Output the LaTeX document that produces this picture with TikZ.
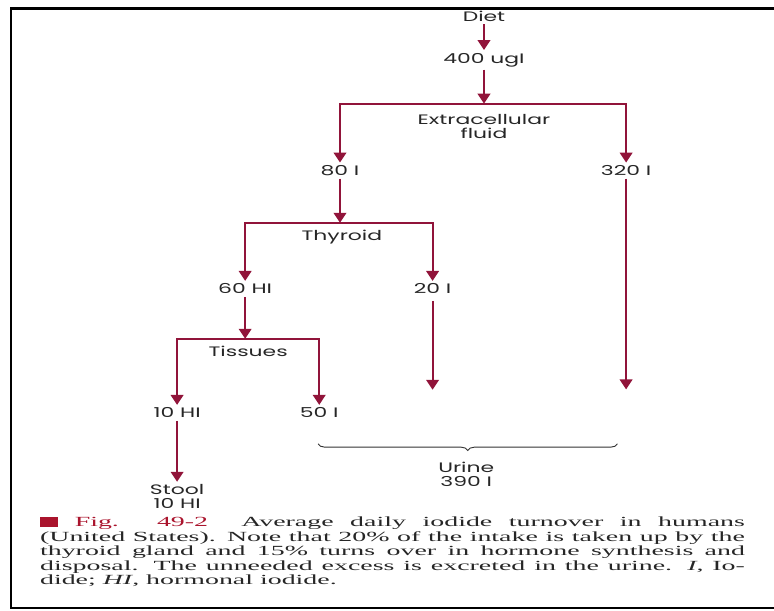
\documentclass[tikz,border=0pt]{standalone}
\usepackage{fontspec}
\usepackage{tikz}
\usetikzlibrary{arrows.meta,positioning,decorations.pathreplacing}
\newfontfamily\flowfont[FakeStretch=1.6]{Poppins}
\newfontfamily\notefont[FakeStretch=2.0]{Liberation Serif}
\definecolor{iodine}{RGB}{145,20,58}
\definecolor{figred}{RGB}{170,20,45}

\begin{document}
\begin{tikzpicture}[
  amount/.style={font=\flowfont\fontsize{10.3}{10.5}\selectfont, text=black!85, inner sep=2pt, align=center},
  arrow/.style={draw=iodine, line width=1.5pt, -{Triangle[width=9.5pt,length=7.5pt]}},
  bracket/.style={draw=black!80, line width=0.7pt, decorate, decoration={brace, mirror, amplitude=5pt}}
]
\useasboundingbox (-12.806,0.423) rectangle (7.673,-15.743);
\draw[line width=2.2pt] (7.673,0.198) -- (-12.515,0.198) -- (-12.515,-15.663) -- (7.673,-15.663);

\node[amount] (diet) at (0,0) {Diet};
\node[amount] (i400) at ([shift={(0,-1.16)}]diet) {400 ugI};
\coordinate (ecfbar) at ([shift={(0,-1.16)}]i400);
\node[amount] (ecf) at ([shift={(0,-0.6)}]ecfbar) {Extracellular\\fluid};
\node[amount] (i80) at ([shift={(-3.81,-1.77)}]ecfbar) {80 I};
\node[amount] (i320) at ([shift={(3.76,-1.77)}]ecfbar) {320 I};
\coordinate (thybar) at ([shift={(0,-1.38)}]i80);
\node[amount] (thy) at ([shift={(0.05,-0.37)}]thybar) {Thyroid};
\node[amount] (hi60) at ([shift={(-2.51,-1.75)}]thybar) {60 HI};
\node[amount] (i20) at ([shift={(2.45,-1.75)}]thybar) {20 I};
\coordinate (tisbar) at ([shift={(0,-1.32)}]hi60);
\node[amount] (tis) at ([shift={(0.08,-0.34)}]tisbar) {Tissues};
\node[amount] (hi10) at ([shift={(-1.8,-1.96)}]tisbar) {10 HI};
\node[amount] (i50) at ([shift={(1.96,-1.96)}]tisbar) {50 I};
\node[amount] (stool) at ([shift={(0,-2.22)}]hi10) {Stool\\10 HI};
\coordinate (i20end) at ([shift={(0,-2.67)}]i20);
\coordinate (i320end) at ([shift={(0,-5.79)}]i320);
\node[amount] (urine) at ([shift={(3.89,-1.63)}]i50) {Urine\\390 I};
\coordinate (braceL) at ([shift={(-3.92,0.81)}]urine);
\coordinate (braceR) at ([shift={(4.0,0.81)}]urine);

\draw[arrow] (diet) -- (i400);
\draw[arrow] (i400) -- (ecfbar);
\draw[arrow] (ecfbar) -| (i80);
\draw[arrow] (ecfbar) -| (i320);
\draw[arrow] (i80) -- (thybar);
\draw[arrow] (thybar) -| (hi60);
\draw[arrow] (thybar) -| (i20);
\draw[arrow] (hi60) -- (tisbar);
\draw[arrow] (tisbar) -| (hi10);
\draw[arrow] (tisbar) -| (i50);
\draw[arrow] (hi10) -- (stool);
\draw[arrow, shorten <=3pt] (i20) -- (i20end);
\draw[arrow] (i320) -- (i320end);
\draw[bracket] (braceL) -- (braceR);

% legend under the figure
\node[text width=18.65cm, align=justify, inner sep=0pt,
  font=\notefont\fontsize{10.5}{11}\selectfont, text=black!85] (legend)
  at ([shift={(5.70,-1.46)}]stool)
  {\tolerance=10000\hyphenpenalty=10000
   \textcolor{figred}{\rule{1.3em}{0.7em} Fig. 49-2}\ \ Average daily iodide turnover in humans\linebreak
   (United States). Note that 20\% of the intake is taken up by the\linebreak
   thyroid gland and 15\% turns over in hormone synthesis and\linebreak
   disposal. The unneeded excess is excreted in the urine. \textit{I}, Io-\linebreak
   dide; \textit{HI}, hormonal iodide.};
\end{tikzpicture}
\end{document}
